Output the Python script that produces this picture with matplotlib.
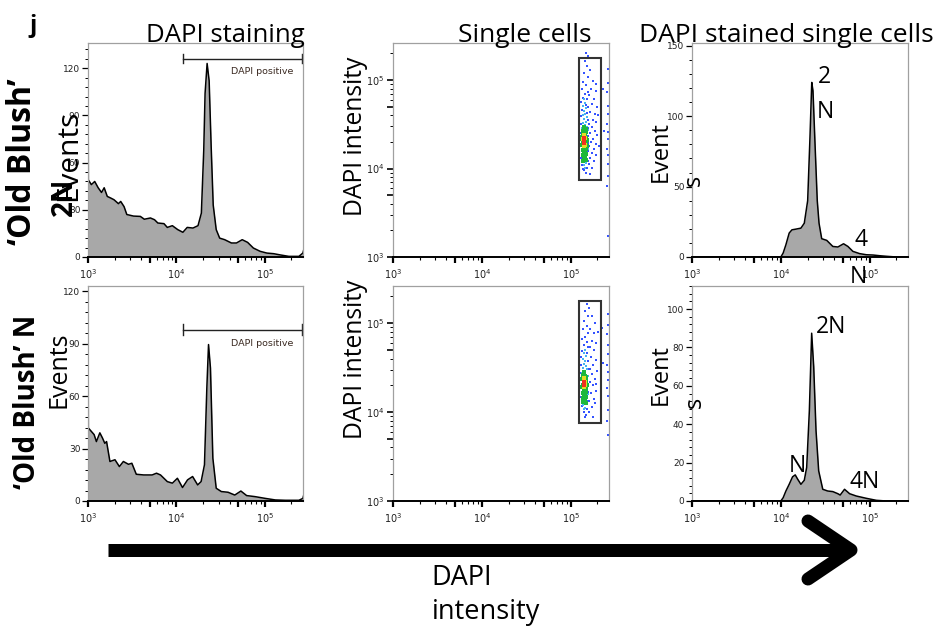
import matplotlib
matplotlib.use("Agg")
import numpy as np
import matplotlib.pyplot as plt
from matplotlib.lines import Line2D
from matplotlib.patches import Rectangle
from matplotlib.ticker import FixedLocator, FuncFormatter, MultipleLocator, NullFormatter

plt.rcParams["mathtext.default"] = "regular"

W, H = 936, 630

# ---- histogram data: log10(DAPI intensity), events ----
# 'Old Blush' 2N, DAPI staining
ob2n_stain_logx = [3.0, 3.0, 3.004, 3.038, 3.076, 3.115, 3.153, 3.183, 3.218, 3.256,
                   3.294, 3.344, 3.37, 3.408, 3.439, 3.515, 3.592, 3.637, 3.706, 3.752,
                   3.79, 3.859, 3.897, 3.954, 4.015, 4.073, 4.122, 4.187, 4.244, 4.282,
                   4.309, 4.324, 4.347, 4.37, 4.393, 4.416, 4.45, 4.489, 4.546, 4.622,
                   4.679, 4.744, 4.805, 4.87, 4.947, 5.023, 5.1, 5.176, 5.271, 5.385,
                   5.43, 5.445]
ob2n_stain_events = [0, 132, 49, 46, 48, 44, 41, 44, 38.5, 37.5,
                     36.4, 33.9, 35.3, 32, 27, 26, 25.8, 24, 24.8, 23.7,
                     21.6, 21.2, 18.8, 19.9, 17.4, 15.7, 18.8, 18.4, 19.9, 27.9,
                     68, 104, 123, 112, 70, 33, 17.4, 12, 11, 8.9,
                     8.9, 11, 9.3, 5.7, 3.6, 2.5, 2.1, 1.3, 0.4, 0.4,
                     2.5, 5.7]

# 'Old Blush' 2N, DAPI stained single cells
ob2n_single_logx = [3.0, 4.0, 4.026, 4.057, 4.094, 4.125, 4.17, 4.226, 4.264, 4.302,
                    4.328, 4.348, 4.362, 4.385, 4.41, 4.43, 4.46, 4.517, 4.585, 4.642,
                    4.706, 4.755, 4.811, 4.887, 4.962, 5.038, 5.113, 5.189, 5.30, 5.43]
ob2n_single_events = [0, 0, 2.8, 8.7, 17, 19.3, 19.8, 20.5, 24, 40,
                      85, 124, 118, 80, 40, 24, 13, 11.8, 7.5, 7.1,
                      9.4, 7.5, 4, 2.4, 1.6, 1.4, 0.9, 0.5, 0, 0]

# 'Old Blush' N, DAPI staining
obn_stain_logx = [3.0, 3.0, 3.004, 3.038, 3.069, 3.095, 3.134, 3.164, 3.19, 3.21,
                  3.248, 3.305, 3.355, 3.4, 3.458, 3.496, 3.546, 3.63, 3.725, 3.775,
                  3.82, 3.897, 3.954, 4.011, 4.069, 4.126, 4.183, 4.24, 4.279, 4.317,
                  4.344, 4.363, 4.385, 4.412, 4.45, 4.508, 4.584, 4.66, 4.729, 4.794,
                  4.889, 5.004, 5.118, 5.233, 5.385, 5.43, 5.445]
obn_stain_events = [0, 118, 41.8, 39.8, 38, 34, 39, 36, 33, 34,
                    22.6, 23.6, 19.7, 22.6, 21, 21.6, 15.3, 14.9, 14.9, 15.9,
                    14.9, 11.1, 10.2, 13, 7.7, 12.1, 14, 9.2, 11.1, 20.7,
                    64.8, 89.5, 76, 24.5, 7.3, 5.4, 5, 3.4, 5.7, 3.1,
                    2.5, 1.5, 0.6, 0.4, 0.4, 1.5, 4.4]

# 'Old Blush' N, DAPI stained single cells
obn_single_logx = [3.0, 4.0, 4.026, 4.057, 4.094, 4.132, 4.162, 4.189, 4.226, 4.264,
                   4.291, 4.321, 4.347, 4.37, 4.396, 4.426, 4.472, 4.528, 4.585, 4.642,
                   4.668, 4.717, 4.774, 4.849, 4.962, 5.075, 5.19, 5.43]
obn_single_events = [0, 0, 1.7, 5.2, 8.7, 12.6, 13.6, 11.4, 8.7, 10.8,
                     17.5, 47, 87.4, 70, 36.7, 15.7, 6.1, 5.2, 4.9, 3.8,
                     3.1, 6.1, 3.8, 2.6, 1.4, 0.35, 0, 0]

# gates (DAPI intensity)
dapi_pos_gate = [1.19e4, 2.62e5]
single_gate_x = [1.23e5, 2.2e5]
single_gate_y = [7.5e3, 1.76e5]

# ---- dot plot events, (log10 x, log10 y), grouped by density ----
top_blue = [(5.16, 5.22), (5.18, 5.16), (5.15, 5.08), (5.19, 5.03), (5.14, 4.98), (5.17, 4.94),
            (5.13, 4.90), (5.19, 4.87), (5.16, 4.84), (5.14, 4.80), (5.18, 4.78), (5.12, 4.75),
            (5.17, 4.72), (5.19, 4.69), (5.13, 4.66), (5.18, 4.63), (5.12, 4.59), (5.19, 4.55),
            (5.12, 4.50), (5.19, 4.46), (5.12, 4.40), (5.20, 4.37), (5.12, 4.33), (5.20, 4.29),
            (5.12, 4.25), (5.20, 4.20), (5.12, 4.12), (5.19, 4.08), (5.13, 4.04), (5.18, 4.01),
            (5.15, 3.98), (5.17, 3.95), (5.14, 3.99), (5.17, 5.30), (5.19, 5.27),
            (5.22, 5.11), (5.25, 4.99), (5.23, 4.90), (5.28, 4.88), (5.21, 4.83), (5.26, 4.78),
            (5.24, 4.73), (5.30, 4.69), (5.22, 4.64), (5.27, 4.62), (5.25, 4.55), (5.29, 4.52),
            (5.21, 4.50), (5.24, 4.47), (5.27, 4.42), (5.22, 4.40), (5.30, 4.38), (5.25, 4.33),
            (5.23, 4.30), (5.28, 4.28), (5.21, 4.25), (5.26, 4.22), (5.24, 4.17), (5.29, 4.15),
            (5.22, 4.12), (5.26, 4.08), (5.21, 4.05), (5.24, 4.01), (5.22, 3.94), (5.31, 4.60),
            (5.32, 4.25), (5.28, 4.95),
            (5.36, 4.90), (5.37, 4.42), (5.42, 5.12), (5.42, 4.97), (5.41, 4.86), (5.42, 4.71),
            (5.42, 4.62), (5.41, 4.50), (5.42, 4.41), (5.42, 4.33), (5.41, 4.22), (5.42, 4.15),
            (5.42, 4.05), (5.42, 3.92), (5.41, 3.80), (5.42, 3.24)]
top_cyan = [(5.15, 4.78), (5.16, 4.74), (5.14, 4.71), (5.17, 4.68), (5.15, 4.65), (5.16, 4.62),
            (5.14, 4.60), (5.18, 4.58), (5.15, 4.56), (5.17, 4.53), (5.14, 4.51), (5.16, 4.49),
            (5.18, 4.47), (5.13, 4.46), (5.19, 4.43), (5.18, 4.30), (5.19, 4.22), (5.17, 4.06),
            (5.15, 4.04), (5.18, 4.10), (5.13, 4.08), (5.16, 4.01)]
top_green = [(5.15, 4.47), (5.16, 4.44), (5.14, 4.42), (5.17, 4.41), (5.15, 4.39), (5.16, 4.37),
             (5.14, 4.38), (5.17, 4.35), (5.13, 4.33), (5.18, 4.32), (5.14, 4.29), (5.17, 4.28),
             (5.13, 4.27), (5.16, 4.25), (5.15, 4.23), (5.17, 4.22), (5.14, 4.21), (5.16, 4.19),
             (5.15, 4.17), (5.17, 4.16), (5.14, 4.15), (5.16, 4.13), (5.15, 4.11), (5.17, 4.10),
             (5.14, 4.09), (5.16, 4.24), (5.18, 4.26), (5.13, 4.36), (5.17, 4.45), (5.15, 4.20)]
top_yellow = [(5.15, 4.36), (5.16, 4.34), (5.14, 4.33), (5.155, 4.30), (5.145, 4.28),
              (5.16, 4.27), (5.15, 4.25), (5.15, 4.38)]
top_red = [(5.15, 4.33), (5.155, 4.31), (5.145, 4.32), (5.15, 4.29), (5.15, 4.35)]

bot_blue = [(5.18, 5.22), (5.16, 5.14), (5.19, 5.08), (5.15, 5.02), (5.18, 4.97), (5.14, 4.93),
            (5.19, 4.89), (5.16, 4.85), (5.13, 4.82), (5.18, 4.79), (5.15, 4.76), (5.19, 4.73),
            (5.13, 4.69), (5.18, 4.66), (5.12, 4.62), (5.19, 4.58), (5.12, 4.53), (5.19, 4.49),
            (5.12, 4.44), (5.20, 4.41), (5.12, 4.36), (5.20, 4.32), (5.12, 4.28), (5.20, 4.23),
            (5.12, 4.17), (5.19, 4.13), (5.13, 4.07), (5.18, 4.03), (5.15, 4.00), (5.17, 3.97),
            (5.16, 3.94),
            (5.21, 5.17), (5.24, 5.08), (5.27, 5.00), (5.22, 4.94), (5.26, 4.89), (5.24, 4.80),
            (5.29, 4.78), (5.22, 4.73), (5.26, 4.70), (5.23, 4.62), (5.28, 4.59), (5.25, 4.53),
            (5.22, 4.48), (5.30, 4.46), (5.24, 4.43), (5.27, 4.37), (5.22, 4.34), (5.25, 4.30),
            (5.28, 4.24), (5.23, 4.21), (5.26, 4.15), (5.21, 4.12), (5.24, 4.06), (5.21, 4.00),
            (5.25, 3.95), (5.31, 4.90), (5.29, 4.32), (5.27, 4.10),
            (5.35, 4.95), (5.36, 4.55), (5.42, 5.10), (5.42, 4.98), (5.41, 4.88), (5.42, 4.76),
            (5.42, 4.65), (5.41, 4.53), (5.42, 4.45), (5.42, 4.36), (5.41, 4.27), (5.42, 4.18),
            (5.42, 4.02), (5.41, 3.90), (5.42, 3.74)]
bot_cyan = [(5.16, 4.70), (5.15, 4.66), (5.17, 4.63), (5.14, 4.60), (5.16, 4.57), (5.15, 4.54),
            (5.17, 4.52), (5.14, 4.50), (5.18, 4.48), (5.15, 4.46), (5.13, 4.44), (5.19, 4.41),
            (5.18, 4.28), (5.19, 4.20), (5.16, 4.05), (5.14, 4.08), (5.18, 4.11), (5.15, 4.03)]
bot_green = [(5.15, 4.45), (5.14, 4.42), (5.16, 4.41), (5.17, 4.39), (5.15, 4.38), (5.13, 4.37),
             (5.17, 4.35), (5.14, 4.31), (5.18, 4.31), (5.16, 4.29), (5.13, 4.28), (5.17, 4.26),
             (5.15, 4.24), (5.14, 4.22), (5.16, 4.21), (5.15, 4.19), (5.17, 4.17), (5.14, 4.16),
             (5.16, 4.14), (5.15, 4.12), (5.17, 4.10), (5.14, 4.11), (5.16, 4.25), (5.15, 4.43),
             (5.17, 4.23)]
bot_yellow = [(5.15, 4.36), (5.16, 4.34), (5.145, 4.30), (5.155, 4.28), (5.15, 4.38), (5.16, 4.31)]
bot_red = [(5.15, 4.33), (5.155, 4.31), (5.145, 4.34), (5.15, 4.30)]

dot_colors = ["#3553ff", "#46b4f0", "#1db83a", "#e3de22", "#f0321e"]
dot_sizes = [3.0, 3.8, 5.5, 6.0, 6.0]

BIG_FONT = "Open Sans"
TICK_FONT = "DejaVu Sans"

fig = plt.figure(figsize=(W / 100, H / 100), dpi=100)


def px_axes(x0, y0, x1, y1):
    return fig.add_axes([x0 / W, 1 - y1 / H, (x1 - x0) / W, (y1 - y0) / H])


def ftext(x, y, s, **kw):
    kw.setdefault("family", BIG_FONT)
    kw.setdefault("ha", "center")
    kw.setdefault("va", "center")
    fig.text(x / W, 1 - y / H, s, **kw)


def pow_label(v, pos):
    e = np.log10(v)
    if abs(e - round(e)) < 1e-6:
        return r"$10^{%d}$" % round(e)
    return ""


def log_axis(axis, vmax):
    majors = [v for v in (1e3, 5e3, 1e4, 5e4, 1e5) if v <= vmax]
    minors = [k * 10 ** e for e in (3, 4, 5) for k in (2, 3, 4, 6, 7, 8, 9) if k * 10 ** e <= vmax]
    axis.set_major_locator(FixedLocator(majors))
    axis.set_major_formatter(FuncFormatter(pow_label))
    axis.set_minor_locator(FixedLocator(minors))
    axis.set_minor_formatter(NullFormatter())


def frame(ax):
    for s in ("top", "right", "left"):
        ax.spines[s].set_color("#a0a0a0")
        ax.spines[s].set_linewidth(0.9)
    ax.spines["bottom"].set_color("black")
    ax.spines["bottom"].set_linewidth(1.4)
    ax.tick_params(axis="x", which="major", length=4, width=1.6, color="black",
                   labelsize=7, pad=3, labelcolor="#222222")
    ax.tick_params(axis="x", which="minor", length=2.5, width=0.8, color="black")
    for lab in ax.get_xticklabels() + ax.get_yticklabels():
        lab.set_family(TICK_FONT)


def histogram(ax, logx, events, ymax, major, minor):
    x = 10 ** np.array(logx)
    ax.fill_between(x, events, 0, color="#a8a8a8", lw=0)
    ax.plot(x, events, color="black", lw=1.1)
    ax.set_xscale("log")
    ax.set_xlim(1e3, 2.7e5)
    ax.set_ylim(0, ymax)
    log_axis(ax.xaxis, 2.7e5)
    ax.yaxis.set_major_locator(MultipleLocator(major))
    ax.yaxis.set_minor_locator(MultipleLocator(minor))
    ax.tick_params(axis="y", which="major", length=4, width=0.9, color="black",
                   labelsize=6.5, pad=1.5, labelcolor="#222222")
    ax.tick_params(axis="y", which="minor", length=2, width=0.7, color="black")
    frame(ax)


def dotplot(ax, groups):
    for pts, c, sz in zip(groups, dot_colors, dot_sizes):
        xy = 10 ** np.array(pts)
        ax.scatter(xy[:, 0], xy[:, 1], s=sz, marker="s", color=c, lw=0)
    ax.add_patch(Rectangle((single_gate_x[0], single_gate_y[0]),
                           single_gate_x[1] - single_gate_x[0],
                           single_gate_y[1] - single_gate_y[0],
                           fill=False, ec="#333333", lw=1.5))
    ax.set_xscale("log")
    ax.set_yscale("log")
    ax.set_xlim(1e3, 2.7e5)
    ax.set_ylim(1e3, 2.62e5)
    log_axis(ax.xaxis, 2.7e5)
    log_axis(ax.yaxis, 2.62e5)
    ax.tick_params(axis="y", which="major", length=4, width=1.2, color="black",
                   labelsize=7, pad=2, labelcolor="#222222")
    ax.tick_params(axis="y", which="minor", length=2, width=0.7, color="black")
    frame(ax)


def dapi_gate(ax, level):
    ax.plot(dapi_pos_gate, [level, level], color="#222222", lw=1.0, clip_on=False)
    for gx in dapi_pos_gate:
        ax.plot([gx, gx], [level - 3, level + 3], color="#222222", lw=1.0, clip_on=False)
    ax.text(10 ** 4.966, level - 8, "DAPI positive", ha="center", va="center",
            fontsize=6.8, color="#3b2a22", family=TICK_FONT)


# panels
ax = px_axes(88, 43, 303, 257)
histogram(ax, ob2n_stain_logx, ob2n_stain_events, 136, 30, 6)
dapi_gate(ax, 126)

ax = px_axes(393, 43, 609, 257)
dotplot(ax, [top_blue, top_cyan, top_green, top_yellow, top_red])

ax = px_axes(692, 43, 908, 257)
histogram(ax, ob2n_single_logx, ob2n_single_events, 152, 50, 10)

ax = px_axes(88, 286, 303, 501)
histogram(ax, obn_stain_logx, obn_stain_events, 123, 30, 6)
dapi_gate(ax, 98)

ax = px_axes(393, 286, 609, 501)
dotplot(ax, [bot_blue, bot_cyan, bot_green, bot_yellow, bot_red])

ax = px_axes(692, 286, 908, 501)
histogram(ax, obn_single_logx, obn_single_events, 112, 20, 4)

# column titles
ftext(33, 26, "j", fontsize=17, weight="bold")
ftext(225, 35, "DAPI staining", fontsize=18.5)
ftext(525, 35, "Single cells", fontsize=19)
ftext(786, 35, "DAPI stained single cells", fontsize=19)

# row labels
ftext(23, 162, "\u2018Old Blush\u2019", fontsize=23, weight="bold", rotation=90)
ftext(64, 197, "2N", fontsize=20, weight="bold", rotation=90)
ftext(28, 402, "\u2018Old Blush\u2019 N", fontsize=20, weight="bold", rotation=90)

# axis labels
ftext(69, 155, "Events", fontsize=21.5, rotation=90)
ftext(59, 370, "Events", fontsize=18, rotation=90)
ftext(356, 136, "DAPI intensity", fontsize=17.7, rotation=90)
ftext(356, 359, "DAPI intensity", fontsize=17.7, rotation=90)
ftext(661, 152, "Event", fontsize=17, rotation=90)
ftext(694, 180, "s", fontsize=17, rotation=90)
ftext(661, 375, "Event", fontsize=17, rotation=90)
ftext(695, 402, "s", fontsize=17, rotation=90)

# ploidy peak labels
ftext(824, 77, "2", fontsize=16.5)
ftext(825, 112, "N", fontsize=16.5)
ftext(861, 240, "4", fontsize=16.5)
ftext(858, 277, "N", fontsize=16.5)
ftext(831, 327, "2N", fontsize=16.5)
ftext(797, 466, "N", fontsize=16.5)
ftext(865, 482, "4N", fontsize=16.5)

# DAPI intensity arrow
lw_arrow = 13 * 72 / 100
fig.add_artist(Line2D([108 / W, 848 / W], [1 - 550 / H, 1 - 550 / H], lw=lw_arrow,
                      color="black", solid_capstyle="butt"))
fig.add_artist(Line2D([808 / W, 851 / W, 808 / W], [1 - 521 / H, 1 - 550 / H, 1 - 579 / H],
                      lw=lw_arrow, color="black", solid_capstyle="round",
                      solid_joinstyle="round"))
ftext(462, 578, "DAPI", fontsize=19.5)
ftext(486, 612, "intensity", fontsize=19.5)

fig.savefig("out.png", dpi=100)
